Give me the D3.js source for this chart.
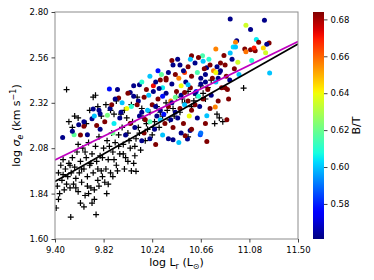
<!DOCTYPE html>
<html>
<head>
<meta charset="utf-8">
<script src="https://cdn.jsdelivr.net/npm/d3@7"></script>
<style>
  body { margin: 0; background: #fff; }
  svg { font-family: "DejaVu Sans", sans-serif; }
</style>
</head>
<body>
<svg width="374" height="280"></svg>
<script>
// tick labels
var xTicks = [9.40, 9.82, 10.24, 10.66, 11.08, 11.50];
var yTicks = [1.60, 1.84, 2.08, 2.32, 2.56, 2.80];
var cTicks = [0.58, 0.60, 0.62, 0.64, 0.66, 0.68];
var btRange = [0.561, 0.684];

// coloured galaxies: log L_r, log sigma_e, B/T
var dots = [
  [10.914,2.763,.562],[11.05,2.73,.635],[11.21,2.756,.562],[11.09,2.707,.562],[10.97,2.648,.562],
  [10.96,2.64,.656],[11.14,2.654,.605],[11.16,2.64,.684],[11.25,2.636,.684],[11.23,2.63,.562],
  [10.94,2.615,.603],[10.96,2.615,.600],[11.04,2.605,.684],[11.09,2.60,.684],[11.13,2.595,.684],
  [11.05,2.59,.658],[11.12,2.61,.670],[11.20,2.61,.645],[11.22,2.585,.635],[11.255,2.478,.600],
  [11.10,2.543,.610],[10.98,2.534,.635],[10.914,2.583,.600],[10.79,2.604,.656],[10.675,2.569,.615],
  [10.58,2.569,.684],[10.41,2.543,.684],[10.48,2.52,.562],[10.29,2.49,.578],[10.32,2.47,.618],
  [10.36,2.45,.684],[10.25,2.41,.672],[10.13,2.416,.562],[10.05,2.375,.562],[9.94,2.39,.562],
  [9.87,2.393,.578],[9.95,2.345,.684],[9.876,2.29,.562],[9.79,2.262,.562],[9.73,2.287,.562],
  [9.72,2.236,.562],[9.76,2.20,.684],[9.605,2.204,.562],[9.65,2.196,.684],[9.466,2.137,.562],
  [9.565,2.151,.618],[9.68,2.151,.562],[9.853,2.254,.622],[10.712,2.116,.684],[10.655,2.151,.585],
  [10.66,2.16,.590],[10.712,2.252,.600],[10.885,2.231,.684],[10.545,2.129,.562],[10.42,2.125,.562],
  [10.525,2.146,.684],[10.568,2.174,.562],[10.785,2.298,.656],[10.90,2.34,.684],[10.87,2.40,.684],
  [10.89,2.39,.684],[10.81,2.45,.562],[10.82,2.48,.562],[10.71,2.505,.562],[10.74,2.52,.684],
  [10.77,2.49,.656],[10.64,2.56,.684],[10.52,2.48,.665],[10.86,2.57,.684],[10.93,2.55,.562],
  [10.83,2.53,.684],[10.68,2.54,.600],
  // y ~ 2.50 - 2.56
  [10.42,2.52,.562],[10.55,2.51,.684],[10.61,2.53,.562],[10.69,2.50,.684],[10.73,2.55,.610],
  [10.80,2.51,.562],[10.87,2.52,.684],[10.95,2.50,.684],[10.57,2.55,.600],[10.46,2.55,.562],
  // y ~ 2.44 - 2.50
  [10.22,2.46,.600],[10.31,2.44,.684],[10.38,2.48,.562],[10.47,2.45,.656],[10.51,2.49,.562],
  [10.58,2.46,.684],[10.63,2.48,.615],[10.70,2.47,.562],[10.76,2.45,.684],[10.83,2.49,.562],
  [10.88,2.46,.684],[10.99,2.47,.600],[10.44,2.47,.684],[10.66,2.45,.562],[10.79,2.48,.640],
  // y ~ 2.38 - 2.44
  [10.08,2.41,.562],[10.19,2.39,.684],[10.27,2.43,.562],[10.33,2.40,.605],[10.41,2.42,.562],
  [10.45,2.38,.684],[10.53,2.43,.562],[10.57,2.40,.684],[10.66,2.42,.562],[10.72,2.39,.684],
  [10.79,2.43,.600],[10.84,2.40,.684],[10.91,2.44,.562],[10.49,2.41,.640],[10.62,2.38,.578],
  [10.36,2.44,.684],[10.15,2.43,.610],[10.30,2.395,.562],[10.55,2.415,.600],[10.70,2.43,.562],
  // y ~ 2.32 - 2.38
  [9.92,2.34,.562],[10.03,2.37,.684],[10.12,2.33,.562],[10.21,2.36,.600],[10.29,2.34,.684],
  [10.36,2.37,.562],[10.40,2.33,.656],[10.49,2.36,.562],[10.55,2.33,.684],[10.61,2.37,.562],
  [10.68,2.34,.684],[10.75,2.36,.562],[10.81,2.33,.684],[10.25,2.38,.562],[10.44,2.35,.620],
  [10.17,2.35,.684],[9.98,2.32,.600],[10.33,2.355,.578],[10.52,2.375,.684],[10.64,2.355,.610],
  [10.08,2.355,.562],
  // y ~ 2.26 - 2.32
  [9.78,2.28,.562],[9.89,2.31,.684],[9.97,2.27,.562],[10.06,2.30,.610],[10.15,2.27,.562],
  [10.24,2.31,.684],[10.31,2.28,.562],[10.38,2.30,.684],[10.44,2.27,.562],[10.52,2.31,.600],
  [10.58,2.28,.684],[10.65,2.30,.562],[10.74,2.29,.684],[10.02,2.29,.640],[10.20,2.28,.600],
  [10.34,2.26,.578],[10.48,2.29,.684],[10.27,2.30,.562],[10.41,2.32,.562],[10.61,2.31,.684],
  [10.11,2.31,.684],
  // y ~ 2.20 - 2.26
  [9.65,2.22,.562],[9.74,2.25,.600],[9.83,2.22,.684],[9.96,2.24,.562],[10.05,2.21,.684],
  [10.13,2.25,.562],[10.22,2.22,.615],[10.28,2.25,.562],[10.35,2.21,.684],[10.46,2.24,.562],
  [10.51,2.21,.684],[10.63,2.24,.562],[10.70,2.21,.684],[9.91,2.21,.605],[10.40,2.23,.562],
  [10.56,2.25,.640],[10.18,2.23,.684],[10.31,2.23,.600],
  // y ~ 2.14 - 2.20
  [9.55,2.17,.562],[9.62,2.15,.684],[9.79,2.18,.562],[9.90,2.16,.620],[10.09,2.19,.562],
  [10.17,2.16,.684],[10.26,2.18,.562],[10.33,2.15,.600],[10.42,2.19,.684],[10.49,2.16,.562],
  [10.58,2.18,.684],[10.01,2.15,.562],
  // y ~ 2.08 - 2.14
  [10.15,2.12,.562],[10.27,2.10,.684],[10.38,2.13,.562],[10.47,2.11,.600],[10.22,2.13,.562]
];

// comparison sample (black crosses): log L_r, log sigma_e
var crosses = [
  [9.50,2.39],[11.03,2.398],[9.536,1.716],[9.755,1.729],[9.847,1.84],[10.10,1.958],
  [9.41,1.764],[9.43,1.81],[9.44,1.84],
  [9.42,1.88],[9.46,1.91],[9.48,1.86],[9.49,1.97],[9.51,1.93],[9.52,2.00],[9.53,1.87],
  [9.54,1.95],[9.55,2.03],[9.56,1.89],[9.57,1.98],[9.58,1.92],[9.59,2.06],[9.60,1.85],
  [9.61,1.95],[9.62,2.01],[9.63,1.90],[9.64,2.08],[9.65,1.97],[9.66,1.83],[9.67,2.03],
  [9.68,1.93],[9.69,2.11],[9.70,1.99],[9.71,1.87],[9.72,2.05],[9.73,1.95],[9.74,1.81],
  [9.75,2.09],[9.76,2.01],[9.77,1.91],[9.78,2.14],[9.79,2.04],[9.80,1.96],[9.82,2.08],
  [9.83,1.90],[9.85,2.12],[9.86,2.02],[9.88,1.95],[9.89,2.16],[9.90,2.06],[9.92,2.11],
  [9.93,1.99],[9.95,2.15],[9.96,2.05],[9.98,2.19],[9.99,2.10],[10.01,2.03],[10.03,2.16],
  [10.05,2.08],[10.07,2.22],[10.08,2.00],[10.10,2.13],[10.12,2.19],[10.14,2.07],[10.16,2.24],
  [10.18,2.12],[10.20,2.18],[10.22,2.27],[10.24,2.15],[10.26,2.22],[10.28,2.30],[10.30,2.19],
  [10.33,2.25],[10.36,2.32],[10.39,2.23],[10.42,2.29],[10.45,2.35],[10.48,2.27],[10.52,2.32],
  [10.55,2.38],[10.58,2.30],[10.62,2.36],[10.66,2.41],[10.70,2.34],[10.75,2.44],[10.80,2.26],
  [10.82,2.24],[10.85,2.22],[10.78,2.21],[10.55,2.14],
  [9.55,2.19],[9.57,2.25],[9.73,2.35],[9.75,2.36],[9.70,2.28],[9.80,2.25],[9.84,2.31],
  [9.88,2.28],[9.93,2.33],[9.97,2.26],[10.02,2.24],[10.06,2.31],[10.11,2.35],[10.15,2.29],
  [9.43,1.95],[9.45,1.99],[9.47,2.02],[9.62,1.79],[9.65,1.77],[9.69,1.84],[9.72,1.79],
  [9.74,1.86],[9.78,1.88],[9.81,1.93],[9.86,1.89],[9.90,1.93],[9.94,1.96],[10.00,1.97],
  [10.03,2.01],[10.06,1.96],[10.09,2.04],
  [9.47,1.94],[9.50,1.89],[9.53,1.99],[9.58,1.87],[9.60,2.10],[9.63,1.97],[9.66,2.06],
  [9.68,1.88],[9.71,2.00],[9.77,1.97],[9.81,2.03],[9.84,1.97],[9.87,2.09],[9.91,2.02],
  [9.95,2.09],[9.99,2.05],[10.04,2.12],[10.09,2.09],[10.13,2.16],[10.19,2.21],[10.25,2.19],
  [10.31,2.27],[10.37,2.28],[10.43,2.25],[10.50,2.34],[10.60,2.33],[10.68,2.37],[10.72,2.40],
  [9.52,2.22],[9.60,2.24],[9.67,2.21],[9.77,2.30],[9.91,2.26],[10.00,2.28]
];

// fitted relations (end points)
var fitBlack = [[9.40, 1.904], [11.50, 2.631]];
var fitMagenta = [[9.40, 2.018], [11.50, 2.644]];

var svg = d3.select("svg"),
    plot = {left: 55, right: 298, top: 12, bottom: 239},
    cbar = {left: 313, width: 11};

var x = d3.scaleLinear().domain([9.40, 11.50]).range([plot.left, plot.right]);
var y = d3.scaleLinear().domain([1.60, 2.80]).range([plot.bottom, plot.top]);
var c = d3.scaleLinear().domain(btRange).range([plot.bottom, plot.top]);

// matplotlib "jet"
var jr = d3.scaleLinear().domain([0, 0.35, 0.66, 0.89, 1]).range([0, 0, 1, 1, 0.5]).clamp(true),
    jg = d3.scaleLinear().domain([0, 0.125, 0.375, 0.64, 0.91, 1]).range([0, 0, 1, 1, 0, 0]).clamp(true),
    jb = d3.scaleLinear().domain([0, 0.11, 0.34, 0.65, 1]).range([0.5, 1, 1, 0, 0]).clamp(true);
var norm = d3.scaleLinear().domain(btRange).range([0, 1]).clamp(true);
function jet(v) {
    var t = norm(v);
    return d3.rgb(jr(t) * 255, jg(t) * 255, jb(t) * 255).toString();
}

var defs = svg.append("defs");
defs.append("clipPath").attr("id", "clip")
    .append("rect")
    .attr("x", plot.left).attr("y", plot.top)
    .attr("width", plot.right - plot.left).attr("height", plot.bottom - plot.top);

var g = svg.append("g").attr("clip-path", "url(#clip)");

g.selectAll("path.cross")
    .data(crosses)
    .enter().append("path")
    .attr("class", "cross")
    .attr("d", "M-3,0H3M0,-3V3")
    .attr("transform", function(d) { return "translate(" + x(d[0]) + "," + y(d[1]) + ")"; })
    .attr("stroke", "#000")
    .attr("stroke-width", 1.2);

g.selectAll("circle")
    .data(dots)
    .enter().append("circle")
    .attr("cx", function(d) { return x(d[0]); })
    .attr("cy", function(d) { return y(d[1]); })
    .attr("r", 2.5)
    .attr("fill", function(d) { return jet(d[2]); });

var line = d3.line()
    .x(function(d) { return x(d[0]); })
    .y(function(d) { return y(d[1]); });

g.append("path").datum(fitBlack)
    .attr("d", line).attr("fill", "none")
    .attr("stroke", "#000").attr("stroke-width", 1.6);
g.append("path").datum(fitMagenta)
    .attr("d", line).attr("fill", "none")
    .attr("stroke", "#bf00bf").attr("stroke-width", 1.6);

// frame
svg.append("rect")
    .attr("x", plot.left).attr("y", plot.top)
    .attr("width", plot.right - plot.left).attr("height", plot.bottom - plot.top)
    .attr("fill", "none").attr("stroke", "#8c8c8c").attr("stroke-width", 1);

var fmt = d3.format(".2f");

var xAxis = svg.append("g")
    .attr("transform", "translate(0," + plot.bottom + ")")
    .call(d3.axisBottom(x).tickValues(xTicks).tickFormat(fmt).tickSize(3.5).tickSizeOuter(0));
var yAxis = svg.append("g")
    .attr("transform", "translate(" + plot.left + ",0)")
    .call(d3.axisLeft(y).tickValues(yTicks).tickFormat(fmt).tickSize(3.5).tickSizeOuter(0));

[xAxis, yAxis].forEach(function(a) {
    a.select(".domain").remove();
    a.selectAll(".tick line").attr("stroke", "#444");
    a.selectAll(".tick text").attr("font-size", 8.5).attr("fill", "#000")
        .attr("font-family", "DejaVu Sans, sans-serif");
});
xAxis.selectAll(".tick text").attr("dy", "0.9em");

// axis labels
var xl = svg.append("text")
    .attr("x", (plot.left + plot.right) / 2).attr("y", 266)
    .attr("text-anchor", "middle").attr("font-size", 11);
xl.append("tspan").text("log L");
xl.append("tspan").attr("font-size", 8).attr("dy", 2.5).text("r");
xl.append("tspan").attr("dy", -2.5).text(" (L");
xl.append("tspan").attr("font-size", 8).attr("dy", 2.5).text("\u2299");
xl.append("tspan").attr("dy", -2.5).text(")");

var yl = svg.append("text")
    .attr("transform", "translate(20," + (plot.top + plot.bottom) / 2 + ") rotate(-90)")
    .attr("text-anchor", "middle").attr("font-size", 11);
yl.append("tspan").text("log ");
yl.append("tspan").attr("font-style", "italic").text("\u03c3");
yl.append("tspan").attr("font-style", "italic").attr("font-size", 8).attr("dy", 2.5).text("e");
yl.append("tspan").attr("dy", -2.5).text(" (km s");
yl.append("tspan").attr("font-size", 8).attr("dy", -4).text("\u22121");
yl.append("tspan").attr("dy", 4).text(")");

// colour bar
var grad = defs.append("linearGradient").attr("id", "jet")
    .attr("x1", 0).attr("y1", 1).attr("x2", 0).attr("y2", 0);
d3.range(0, 1.0001, 0.02).forEach(function(t) {
    grad.append("stop").attr("offset", t)
        .attr("stop-color", jet(btRange[0] + t * (btRange[1] - btRange[0])));
});
svg.append("rect")
    .attr("x", cbar.left).attr("y", plot.top)
    .attr("width", cbar.width).attr("height", plot.bottom - plot.top)
    .attr("fill", "url(#jet)");

var cAxis = svg.append("g")
    .attr("transform", "translate(" + (cbar.left + cbar.width) + ",0)")
    .call(d3.axisRight(c).tickValues(cTicks).tickFormat(fmt).tickSize(3.5).tickSizeOuter(0));
cAxis.select(".domain").remove();
cAxis.selectAll(".tick line").attr("stroke", "#444");
cAxis.selectAll(".tick text").attr("font-size", 8.5).attr("fill", "#000")
    .attr("font-family", "DejaVu Sans, sans-serif");

svg.append("text")
    .attr("transform", "translate(360," + (plot.top + plot.bottom) / 2 + ") rotate(-90)")
    .attr("text-anchor", "middle").attr("font-size", 11)
    .text("B/T");
</script>
</body>
</html>
